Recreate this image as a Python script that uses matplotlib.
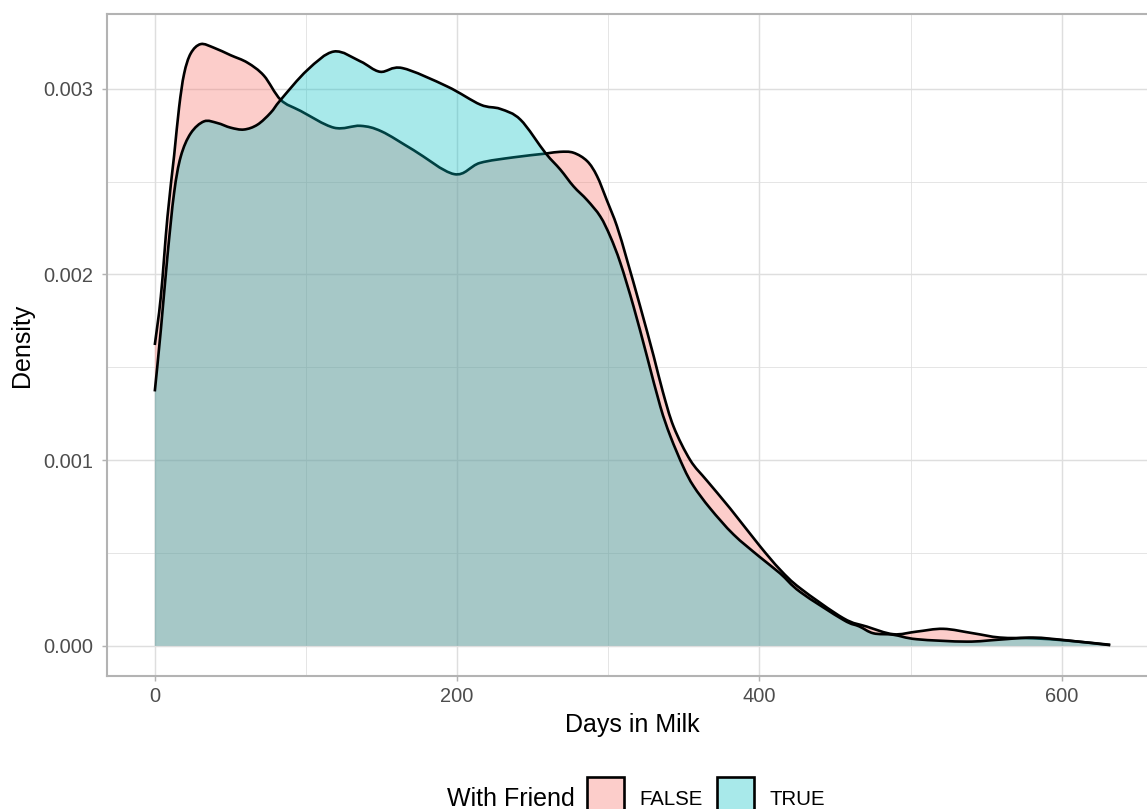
import numpy as np
import matplotlib
matplotlib.use("Agg")
import matplotlib.pyplot as plt
from matplotlib.patches import Rectangle, PathPatch
from matplotlib.path import Path

# density curves (x in days, y in units of 1e-3)
false_x = [0, 4, 8.4, 12.8, 16.1, 19.4, 23.8, 30.4, 39.2, 50.2, 61.3, 72.2, 83.3,
           96.5, 118.5, 136, 150, 171, 198, 215, 237, 258, 268, 277, 286, 292.5,
           299, 305.7, 312.3, 321, 330, 336, 343.2, 354.2, 365.2, 380.6, 400,
           413.7, 427, 455.5, 471, 488.5, 504, 521.6, 541.4, 559, 581, 603, 632]
false_y = [1.62, 1.88, 2.31, 2.64, 2.90, 3.08, 3.19, 3.24, 3.22, 3.18, 3.14, 3.07, 2.94,
           2.88, 2.79, 2.80, 2.77, 2.67, 2.54, 2.60, 2.63, 2.65, 2.66, 2.655, 2.61, 2.53,
           2.40, 2.26, 2.08, 1.83, 1.56, 1.37, 1.18, 1.00, 0.89, 0.74, 0.54,
           0.41, 0.31, 0.149, 0.104, 0.063, 0.077, 0.092, 0.068, 0.045, 0.041, 0.029, 0.006]

true_x = [0, 4, 8.4, 12.8, 17.2, 23.8, 32.6, 41.4, 50.2, 59, 67.9, 76.6, 83.3,
          100.9, 118.5, 136, 149, 163.7, 193.4, 215.4, 228.6, 241.9, 258.4, 268.3,
          277, 286, 294.7, 301.3, 308, 316.7, 325.6, 334.4, 341, 349.8, 356.4, 367.4,
          382.8, 400, 413.7, 427, 455.5, 466, 475.3, 488.5, 504, 537, 559, 581, 603, 632]
true_y = [1.37, 1.70, 2.10, 2.44, 2.635, 2.76, 2.824, 2.815, 2.79, 2.78, 2.806, 2.87, 2.94,
          3.10, 3.20, 3.147, 3.091, 3.111, 3.012, 2.914, 2.891, 2.833, 2.654, 2.564,
          2.474, 2.40, 2.312, 2.204, 2.061, 1.827, 1.558, 1.289, 1.13, 0.96, 0.86, 0.74,
          0.60, 0.48, 0.39, 0.29, 0.14, 0.105, 0.068, 0.060, 0.036, 0.023, 0.034, 0.045, 0.03, 0.004]

groups = ["FALSE", "TRUE"]
colors = {"FALSE": "#F8766D", "TRUE": "#00BFC4"}
alphas = {"FALSE": 0.36, "TRUE": 0.34}


def smooth_path(x, y, close=False):
    # Catmull-Rom style bezier through the read points (drawing only)
    pts = np.column_stack([x, y])
    n = len(pts)
    verts = [pts[0]]
    codes = [Path.MOVETO]
    for i in range(n - 1):
        p0 = pts[max(i - 1, 0)]
        p1 = pts[i]
        p2 = pts[i + 1]
        p3 = pts[min(i + 2, n - 1)]
        c1 = p1 + (p2 - p0) / 6.0
        c2 = p2 - (p3 - p1) / 6.0
        verts += [c1, c2, p2]
        codes += [Path.CURVE4] * 3
    if close:
        verts += [(x[-1], 0), (x[0], 0), pts[0]]
        codes += [Path.LINETO, Path.LINETO, Path.CLOSEPOLY]
    return Path(verts, codes)


plt.rcParams["font.family"] = ["Liberation Sans", "DejaVu Sans"]

W, H = 1147, 809
fig = plt.figure(figsize=(W / 100, H / 100), dpi=100)
ax = fig.add_axes([107 / W, 1 - 676 / H, (1158 - 107) / W, (676 - 14) / H])

curves = {"FALSE": (false_x, false_y), "TRUE": (true_x, true_y)}
for g in groups:
    x = np.array(curves[g][0], dtype=float)
    y = np.array(curves[g][1]) * 1e-3
    ax.add_patch(PathPatch(smooth_path(x, y, close=True), facecolor=colors[g],
                           alpha=alphas[g], linewidth=0))
    ax.add_patch(PathPatch(smooth_path(x, y), facecolor="none", edgecolor="black",
                           linewidth=1.9, capstyle="butt"))

ax.set_xlim(-31.6, 663.6)
ax.set_ylim(-0.000162, 0.003402)

ax.set_xticks([0, 200, 400, 600])
ax.set_xticks([100, 300, 500], minor=True)
ax.set_yticks([0, 0.001, 0.002, 0.003])
ax.set_yticks([0.0005, 0.0015, 0.0025], minor=True)
ax.set_yticklabels(["0.000", "0.001", "0.002", "0.003"])

ax.set_axisbelow(True)
ax.grid(which="major", color="#DEDEDE", linewidth=1.05)
ax.grid(which="minor", color="#DEDEDE", linewidth=0.55)

ax.tick_params(which="major", length=3.6, width=1.05, color="#B3B3B3",
               labelsize=14.4, labelcolor="#4D4D4D")
ax.tick_params(axis="y", pad=6.2)
ax.tick_params(axis="x", pad=4.5)
ax.tick_params(which="minor", length=0)

for s in ax.spines.values():
    s.set_color("#B3B3B3")
    s.set_linewidth(1.5)

ax.set_xlabel("Days in Milk", fontsize=18, labelpad=5)
ax.set_ylabel("Density", fontsize=18, labelpad=7)

# legend at the bottom, drawn by hand like the ggplot guide
fig.text(447 / W, 1 - 806 / H, "With Friend", fontsize=18, ha="left", va="baseline")
key_boxes = [("FALSE", 586.7, 639.3), ("TRUE", 716.7, 770)]
for g, bx, tx in key_boxes:
    fig.patches.append(Rectangle((bx / W, 1 - 814 / H), 37.3 / W, 37 / H,
                                 transform=fig.transFigure, facecolor=colors[g],
                                 alpha=alphas[g], edgecolor="none"))
    fig.patches.append(Rectangle((bx / W, 1 - 814 / H), 37.3 / W, 37 / H,
                                 transform=fig.transFigure, facecolor="none",
                                 edgecolor="black", linewidth=1.9))
    fig.text(tx / W, 1 - 805 / H, g, fontsize=14.7, ha="left", va="baseline")

fig.savefig("out.png", dpi=100)
